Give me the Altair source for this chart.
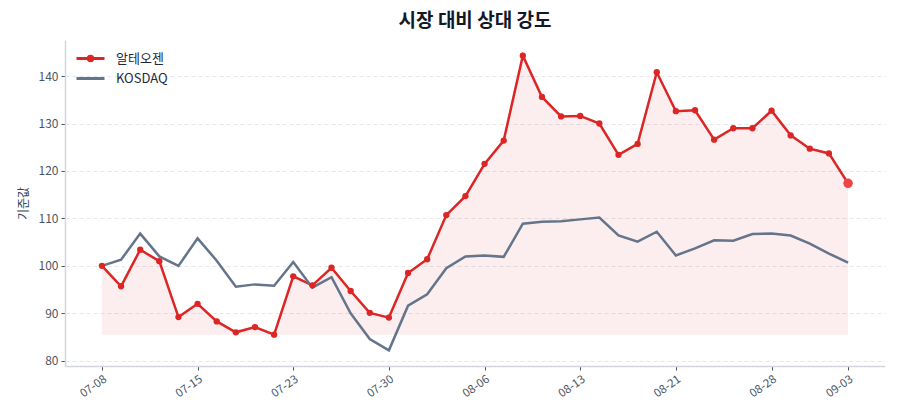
import altair as alt
import pandas as pd

dates = ['07-08', '07-09', '07-10', '07-11', '07-12', '07-15', '07-16', '07-17', '07-18', '07-19',
         '07-23', '07-24', '07-25', '07-26', '07-29', '07-30', '07-31', '08-01', '08-02', '08-05',
         '08-06', '08-07', '08-08', '08-09', '08-12', '08-13', '08-14', '08-16', '08-19', '08-20',
         '08-21', '08-22', '08-23', '08-26', '08-27', '08-28', '08-29', '08-30', '09-02', '09-03']
stock = [100.0, 95.7, 103.4, 101.0, 89.2, 92.0, 88.3, 86.0, 87.1, 85.5,
         97.8, 95.9, 99.6, 94.7, 90.1, 89.1, 98.5, 101.4, 110.7, 114.7,
         121.5, 126.4, 144.3, 135.6, 131.5, 131.6, 130.0, 123.4, 125.7, 140.8,
         132.6, 132.8, 126.6, 129.0, 129.0, 132.7, 127.5, 124.7, 123.7, 117.4]
kosdaq = [100.0, 101.3, 106.8, 102.0, 100.0, 105.8, 101.1, 95.6, 96.1, 95.8,
          100.8, 95.4, 97.6, 90.0, 84.6, 82.2, 91.6, 94.0, 99.5, 102.0,
          102.2, 101.9, 108.9, 109.3, 109.4, 109.8, 110.2, 106.4, 105.1, 107.2,
          102.2, 103.7, 105.4, 105.3, 106.7, 106.8, 106.4, 104.7, 102.6, 100.7]
tick_dates = ['07-08', '07-15', '07-23', '07-30', '08-06', '08-13', '08-21', '08-28', '09-03']
series_names = ['알테오젠', 'KOSDAQ']

RED = '#dc2626'
SLATE = '#64748b'

idx = list(range(len(dates)))
df = pd.DataFrame({'i': idx, 'date': dates, 'stock': stock, 'kosdaq': kosdaq})
df['base'] = min(stock)
long_df = pd.concat([
    pd.DataFrame({'i': idx, 'value': stock, 'series': series_names[0]}),
    pd.DataFrame({'i': idx, 'value': kosdaq, 'series': series_names[1]}),
])
last_df = df.tail(1)

tick_idx = [dates.index(d) for d in tick_dates]
label_expr = ' : '.join(f"datum.value == {i} ? '{d}'" for i, d in zip(tick_idx, tick_dates)) + " : ''"

x = alt.X('i:Q', title=None,
          scale=alt.Scale(domain=[-1.93, len(dates) - 1 + 1.93], nice=False, zero=False),
          axis=alt.Axis(values=tick_idx, labelExpr=label_expr, labelAngle=-35,
                        labelAlign='right', labelBaseline='top', grid=False,
                        labelFontSize=11.5))
y_scale = alt.Scale(domain=[78.9, 147.6], nice=False, zero=False)

area = alt.Chart(df).mark_area(color=RED, opacity=0.08).encode(
    x=x,
    y=alt.Y('stock:Q', scale=y_scale, title='기준값',
            axis=alt.Axis(values=[80, 90, 100, 110, 120, 130, 140], labelFontSize=12)),
    y2='base:Q',
)

# legend symbols: line with a dot for the stock, plain line for the index
marker_path = 'M-1.4,0H1.4M-0.22,0a0.22,0.22 0 1,0 0.44,0a0.22,0.22 0 1,0 -0.44,0'
line_path = 'M-1.4,0H1.4'
legend = alt.Legend(title=None, orient='none', legendX=14, legendY=7, padding=0,
                    symbolStrokeWidth=3, symbolSize=400, symbolOpacity=1,
                    labelFontSize=13, labelColor='#1f2937', rowPadding=0, labelOffset=14)
color = alt.Color('series:N', sort=series_names,
                  scale=alt.Scale(domain=series_names, range=[RED, SLATE]),
                  legend=legend)
shape = alt.Shape('series:N', sort=series_names,
                  scale=alt.Scale(domain=series_names, range=[marker_path, line_path]),
                  legend=legend)

lines = alt.Chart(long_df).mark_line(strokeWidth=2.5).encode(
    x=x,
    y=alt.Y('value:Q', scale=y_scale),
    color=color,
)

legend_layer = alt.Chart(long_df).mark_point(filled=False, strokeWidth=3).encode(
    x=x,
    y=alt.Y('value:Q', scale=y_scale),
    color=color,
    shape=shape,
).transform_filter('datum.i < 0')

points = alt.Chart(df).mark_circle(color=RED, size=40, opacity=1).encode(
    x=x,
    y=alt.Y('stock:Q', scale=y_scale),
)

last_point = alt.Chart(last_df).mark_circle(color='#ef4444', size=90, opacity=1).encode(
    x=x,
    y=alt.Y('stock:Q', scale=y_scale),
)

chart = alt.layer(area, lines, legend_layer, points, last_point).properties(
    width=820,
    height=326,
    autosize='none',
    padding={'left': 57, 'top': 32, 'right': 7, 'bottom': 46},
    title=alt.TitleParams('시장 대비 상대 강도', fontSize=19, fontWeight='bold',
                          color='#111827', offset=9, anchor='middle'),
).configure(
    font='Noto Sans CJK KR',
).configure_view(
    stroke=None,
).configure_axis(
    labelFont='Noto Sans CJK KR',
    labelColor='#4b5563',
    titleFont='Noto Sans CJK KR',
    titleFontSize=12,
    titleFontWeight='normal',
    titleColor='#374151',
    domainColor='#d1d5db',
    domainWidth=1.5,
    tickColor='#4b5563',
    tickSize=4,
    labelPadding=3,
    gridColor='#e5e7eb',
    gridDash=[4, 3],
    gridWidth=1,
).configure_axisY(
    titlePadding=8,
)

chart.save("out.html", embed_options={"renderer": "svg", "actions": False})
